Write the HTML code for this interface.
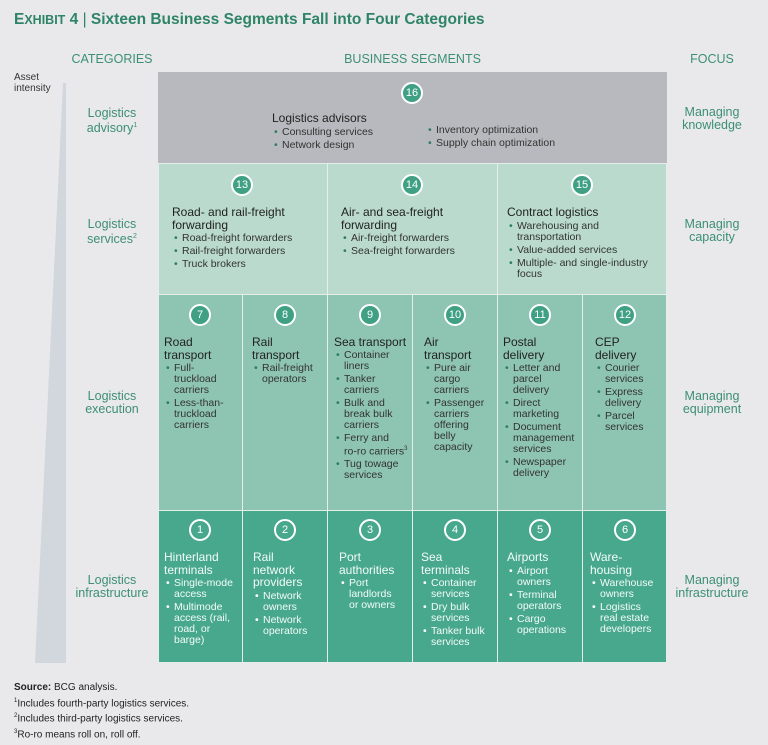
<!DOCTYPE html><html><head><meta charset="utf-8"><style>
*{margin:0;padding:0;box-sizing:border-box}
body{width:768px;height:745px;background:#e9e9eb;font-family:"Liberation Sans",sans-serif;position:relative;overflow:hidden;color:#2b2b2b}
.a{position:absolute}
.c{position:absolute;border:1px solid #e4efe9}
.g{color:#3c8f74;font-size:12.5px;line-height:12.5px;text-align:center}
.n{position:absolute;width:22px;height:22px;border-radius:50%;border:2px solid #fff;background:#3fa084;color:#fff;font-size:11px;line-height:18px;text-align:center}
.o{background:transparent}
.t{font-size:12px;line-height:12.5px;color:#222}
ul{list-style:none;font-size:10.5px;line-height:11px;color:#333;margin-top:2px}
li{padding-left:10px;position:relative;margin-bottom:2px}
li:before{content:"•";position:absolute;left:2px;color:#2e7d63}
.w ul,.w .t{color:#f3fbf8}.w li:before{color:#fff}
</style></head><body>
<div class="a" style="left:14px;top:11px;font-size:15.5px;font-weight:bold;color:#2e8466">E<span style="font-size:12.5px">XHIBIT</span> 4 <span style="font-weight:normal">|</span> Sixteen Business Segments Fall into Four Categories</div>
<div class="a g" style="left:70px;top:53px;width:84px;font-size:12.5px">CATEGORIES</div>
<div class="a g" style="left:330px;top:53px;width:165px;font-size:12.5px">BUSINESS SEGMENTS</div>
<div class="a g" style="left:670px;top:53px;width:84px;font-size:12.5px">FOCUS</div>
<div class="a" style="left:14px;top:72px;font-size:10px;line-height:11px;color:#333">Asset<br>intensity</div>
<svg class="a" style="left:0;top:0" width="160" height="745"><polygon points="63,83 66,83 66,663 35,663" fill="#d1d7dc"/></svg>
<div class="a g" style="left:70px;top:107px;width:84px">Logistics<br>advisory<sup style="font-size:7px">1</sup></div>
<div class="a g" style="left:70px;top:218px;width:84px">Logistics<br>services<sup style="font-size:7px">2</sup></div>
<div class="a g" style="left:70px;top:390px;width:84px">Logistics<br>execution</div>
<div class="a g" style="left:68px;top:574px;width:88px">Logistics<br>infrastructure</div>
<div class="a g" style="left:670px;top:106px;width:84px">Managing<br>knowledge</div>
<div class="a g" style="left:670px;top:218px;width:84px">Managing<br>capacity</div>
<div class="a g" style="left:670px;top:390px;width:84px">Managing<br>equipment</div>
<div class="a g" style="left:668px;top:574px;width:88px">Managing<br>infrastructure</div>

<div class="a" style="left:158px;top:72px;width:509px;height:91px;background:#b7b9be"></div>
<div class="n" style="left:401px;top:82px">16</div>
<div class="a t" style="left:272px;top:112px">Logistics advisors<ul><li>Consulting services</li><li>Network design</li></ul></div>
<div class="a" style="left:426px;top:123px"><ul><li>Inventory optimization</li><li>Supply chain optimization</li></ul></div>

<div class="c" style="left:158px;top:163px;width:170px;height:132px;background:#b9dacd"></div>
<div class="c" style="left:327px;top:163px;width:171px;height:132px;background:#b9dacd"></div>
<div class="c" style="left:497px;top:163px;width:170px;height:132px;background:#b9dacd"></div>
<div class="n" style="left:231px;top:174px">13</div>
<div class="n" style="left:401px;top:174px">14</div>
<div class="n" style="left:571px;top:174px">15</div>
<div class="a t" style="left:172px;top:206px">Road- and rail-freight<br>forwarding<ul><li>Road-freight forwarders</li><li>Rail-freight forwarders</li><li>Truck brokers</li></ul></div>
<div class="a t" style="left:341px;top:206px">Air- and sea-freight<br>forwarding<ul><li>Air-freight forwarders</li><li>Sea-freight forwarders</li></ul></div>
<div class="a t" style="left:507px;top:206px">Contract logistics<ul><li>Warehousing and<br>transportation</li><li>Value-added services</li><li>Multiple- and single-industry<br>focus</li></ul></div>

<div class="c" style="left:158px;top:294px;width:85px;height:217px;background:#8ec4b2"></div>
<div class="c" style="left:242px;top:294px;width:86px;height:217px;background:#8ec4b2"></div>
<div class="c" style="left:327px;top:294px;width:86px;height:217px;background:#8ec4b2"></div>
<div class="c" style="left:412px;top:294px;width:86px;height:217px;background:#8ec4b2"></div>
<div class="c" style="left:497px;top:294px;width:86px;height:217px;background:#8ec4b2"></div>
<div class="c" style="left:582px;top:294px;width:85px;height:217px;background:#8ec4b2"></div>
<div class="n" style="left:189px;top:304px">7</div>
<div class="n" style="left:274px;top:304px">8</div>
<div class="n" style="left:359px;top:304px">9</div>
<div class="n" style="left:444px;top:304px">10</div>
<div class="n" style="left:529px;top:304px">11</div>
<div class="n" style="left:614px;top:304px">12</div>
<div class="a t" style="left:164px;top:336px">Road<br>transport<ul><li>Full-<br>truckload<br>carriers</li><li>Less-than-<br>truckload<br>carriers</li></ul></div>
<div class="a t" style="left:252px;top:336px">Rail<br>transport<ul><li>Rail-freight<br>operators</li></ul></div>
<div class="a t" style="left:334px;top:336px">Sea transport<ul style="margin-top:1px"><li>Container<br>liners</li><li>Tanker<br>carriers</li><li>Bulk and<br>break bulk<br>carriers</li><li>Ferry and<br>ro-ro carriers<sup style="font-size:6px">3</sup></li><li>Tug towage<br>services</li></ul></div>
<div class="a t" style="left:424px;top:336px">Air<br>transport<ul><li>Pure air<br>cargo<br>carriers</li><li>Passenger<br>carriers<br>offering<br>belly<br>capacity</li></ul></div>
<div class="a t" style="left:503px;top:336px">Postal<br>delivery<ul><li>Letter and<br>parcel<br>delivery</li><li>Direct<br>marketing</li><li>Document<br>management<br>services</li><li>Newspaper<br>delivery</li></ul></div>
<div class="a t" style="left:595px;top:336px">CEP<br>delivery<ul><li>Courier<br>services</li><li>Express<br>delivery</li><li>Parcel<br>services</li></ul></div>

<div class="c" style="left:158px;top:510px;width:85px;height:153px;background:#48a88d"></div>
<div class="c" style="left:242px;top:510px;width:86px;height:153px;background:#48a88d"></div>
<div class="c" style="left:327px;top:510px;width:86px;height:153px;background:#48a88d"></div>
<div class="c" style="left:412px;top:510px;width:86px;height:153px;background:#48a88d"></div>
<div class="c" style="left:497px;top:510px;width:86px;height:153px;background:#48a88d"></div>
<div class="c" style="left:582px;top:510px;width:85px;height:153px;background:#48a88d"></div>
<div class="n o" style="left:189px;top:519px">1</div>
<div class="n o" style="left:274px;top:519px">2</div>
<div class="n o" style="left:359px;top:519px">3</div>
<div class="n o" style="left:444px;top:519px">4</div>
<div class="n o" style="left:529px;top:519px">5</div>
<div class="n o" style="left:614px;top:519px">6</div>
<div class="w">
<div class="a t" style="left:164px;top:551px">Hinterland<br>terminals<ul><li>Single-mode<br>access</li><li>Multimode<br>access (rail,<br>road, or<br>barge)</li></ul></div>
<div class="a t" style="left:253px;top:551px">Rail<br>network<br>providers<ul><li>Network<br>owners</li><li>Network<br>operators</li></ul></div>
<div class="a t" style="left:339px;top:551px">Port<br>authorities<ul><li>Port<br>landlords<br>or owners</li></ul></div>
<div class="a t" style="left:421px;top:551px">Sea<br>terminals<ul><li>Container<br>services</li><li>Dry bulk<br>services</li><li>Tanker bulk<br>services</li></ul></div>
<div class="a t" style="left:507px;top:551px">Airports<ul><li>Airport<br>owners</li><li>Terminal<br>operators</li><li>Cargo<br>operations</li></ul></div>
<div class="a t" style="left:590px;top:551px">Ware-<br>housing<ul><li>Warehouse<br>owners</li><li>Logistics<br>real estate<br>developers</li></ul></div>
</div>
<div class="a" style="left:14px;top:681px;font-size:10px;line-height:13.5px;color:#222"><b>Source:</b> BCG analysis.<br><sup style="font-size:6px">1</sup>Includes fourth-party logistics services.<br><sup style="font-size:6px">2</sup>Includes third-party logistics services.<br><sup style="font-size:6px">3</sup>Ro-ro means roll on, roll off.</div>
</body></html>
